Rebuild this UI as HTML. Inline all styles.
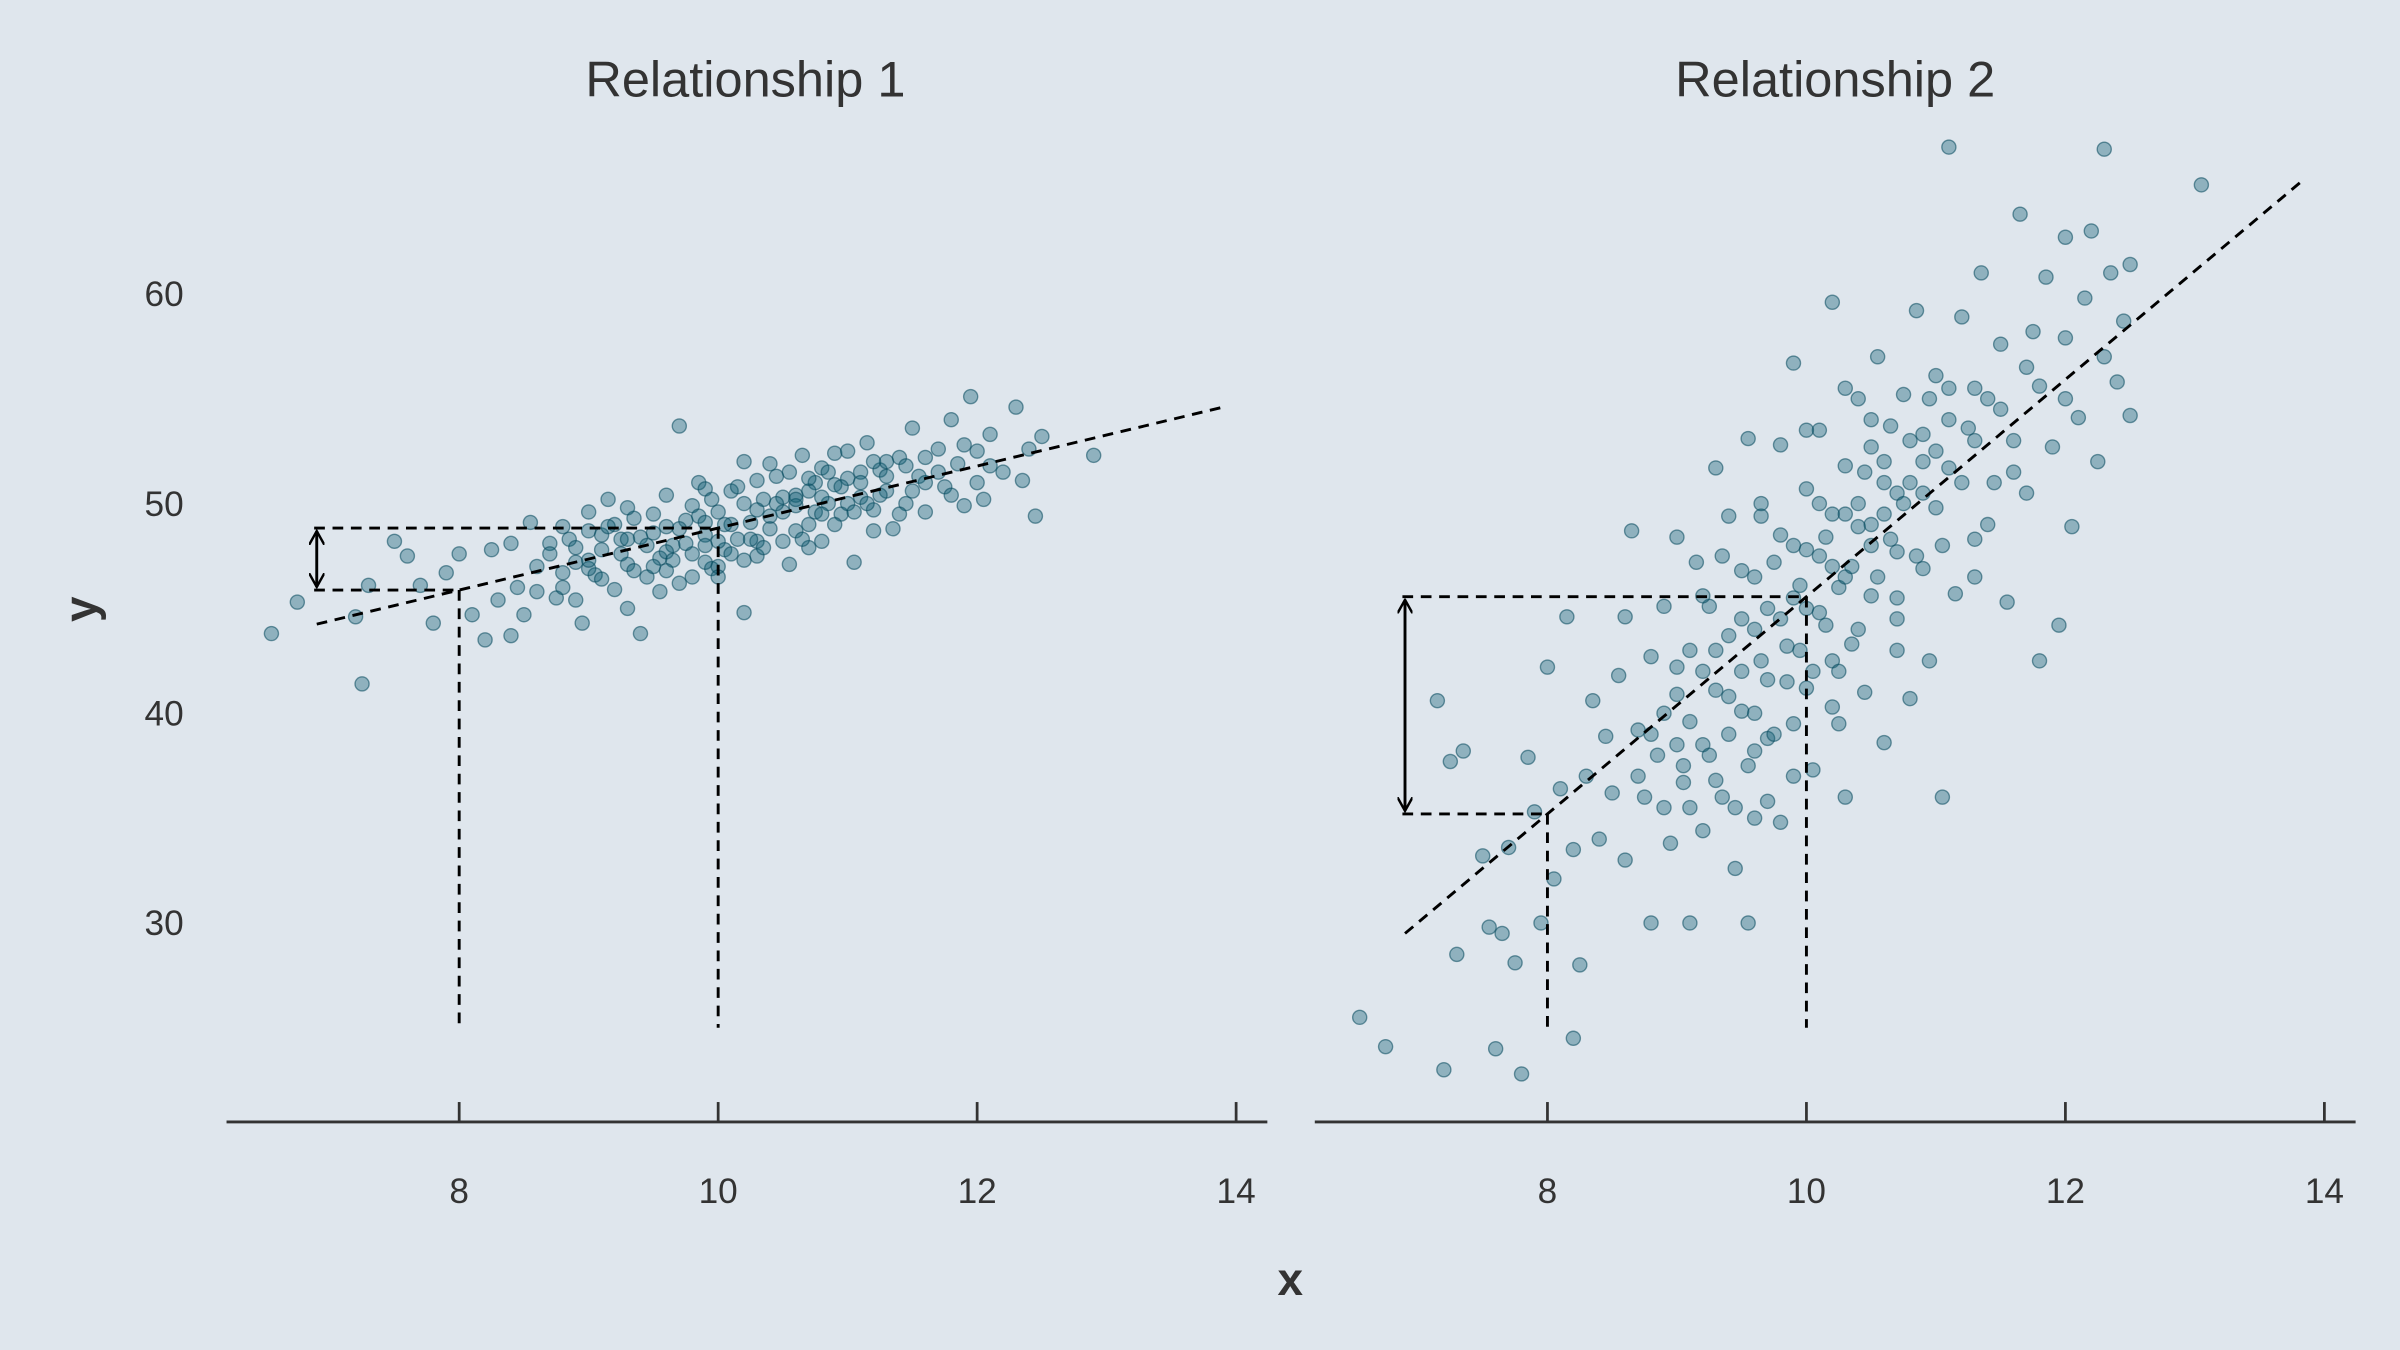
<!DOCTYPE html>
<html><head><meta charset="utf-8"><style>
html,body{margin:0;padding:0;background:#dfe6ed;}
svg{display:block;}
text{font-family:"Liberation Sans",sans-serif;}
</style></head><body>
<svg id="chart" width="2400" height="1350" viewBox="0 0 1568 882" xmlns="http://www.w3.org/2000/svg">
<rect width="1568" height="882" fill="#dfe6ed"/>
<defs>
<marker id="ah" viewBox="0 0 10 10" refX="9" refY="5" markerWidth="10" markerHeight="10" orient="auto-start-reverse" markerUnits="userSpaceOnUse"><path d="M0,0 L9,5 L0,10" fill="none" stroke="#000" stroke-width="1.6"/></marker>
</defs>
<text x="487" y="63" font-size="33" text-anchor="middle" fill="#333">Relationship 1</text>
<text x="1199" y="63" font-size="33" text-anchor="middle" fill="#333">Relationship 2</text>
<text x="843" y="846" font-size="30" font-weight="bold" text-anchor="middle" fill="#333">x</text>
<text transform="translate(63,398) rotate(-90)" font-size="30" font-weight="bold" text-anchor="middle" fill="#333">y</text>
<g id="layer"></g>
</svg>
<script>
const xTicks=[8,10,12,14];
const yTicks=[30,40,50,60];
const xs1=[6.55,6.75,7.2,7.25,7.3,7.5,7.6,7.7,7.8,7.9,8.0,8.1,8.2,8.25,8.3,8.4,8.45,8.5,8.55,8.6,8.7,8.75,8.8,8.85,8.9,8.95,9.0,9.05,9.1,9.15,9.2,9.25,9.3,9.35,9.4,9.45,9.5,9.55,9.6,9.65,9.7,9.7,9.75,9.8,9.85,9.9,9.95,10.0,10.05,10.1,10.15,10.2,10.2,10.25,10.3,10.35,10.4,10.45,10.5,10.55,10.6,10.65,10.7,10.75,10.8,10.85,10.9,10.95,11.0,11.05,11.1,11.15,11.2,11.25,11.3,11.35,11.4,11.45,11.5,11.55,11.6,11.7,11.75,11.8,11.85,11.9,11.95,12.0,12.05,12.1,12.2,12.3,12.4,12.45,12.5,12.9,12.35,9.2,9.4,9.6,9.8,10.0,10.2,10.4,10.6,10.8,11.0,9.3,9.5,9.7,9.9,10.1,10.3,10.5,10.7,10.9,11.1,11.3,8.8,8.9,9.0,9.1,9.9,10.0,10.3,10.7,11.2,11.6,12.0,8.6,8.4,
8.7,8.8,8.9,9.0,9.1,9.15,9.25,9.3,9.35,9.45,9.5,9.55,9.6,9.65,9.75,9.8,9.85,9.9,9.95,10.0,10.05,10.1,10.15,10.25,10.3,10.35,10.45,10.5,10.55,10.6,10.65,10.7,10.75,10.8,10.85,10.9,10.95,11.0,11.05,11.1,11.15,11.25,11.3,11.4,11.45,11.5,11.6,11.7,11.8,11.9,12.1,9.0,9.3,9.6,9.9,10.2,10.4,10.6,10.8,11.2];
const ys1=[43.8,45.3,44.6,41.4,46.1,48.2,47.5,46.1,44.3,46.7,47.6,44.7,43.5,47.8,45.4,43.7,46.0,44.7,49.1,47.0,48.1,45.5,46.7,48.3,47.2,44.3,48.7,46.6,47.8,50.2,45.9,48.3,47.1,49.3,43.8,46.5,48.6,47.4,50.4,48.0,53.7,46.2,49.2,47.6,51.0,48.5,46.9,49.6,47.8,50.6,48.3,44.8,52.0,49.1,47.5,50.2,48.8,51.3,49.6,47.1,50.4,52.3,49.0,51.0,48.2,50.0,52.4,49.5,51.2,47.2,50.3,52.9,49.7,51.6,50.6,48.8,52.2,50.0,53.6,51.3,49.6,52.6,50.8,54.0,51.9,49.9,55.1,52.5,50.2,53.3,51.5,54.6,52.6,49.4,53.2,52.3,51.1,49.0,48.4,47.7,49.9,48.2,50.0,49.4,48.7,51.7,50.0,45.0,47.0,48.8,47.2,49.0,51.1,50.3,50.6,50.9,51.5,52.0,48.9,45.4,46.9,48.5,50.7,47.0,48.2,47.9,48.7,51.0,51.0,45.8,48.1,
47.6,46.0,47.9,47.3,46.4,48.9,47.6,49.8,46.8,48.0,49.5,45.8,48.9,47.3,48.1,46.5,49.4,48.0,50.2,46.5,49.0,47.6,50.8,48.3,49.7,47.9,50.0,48.2,51.5,49.9,48.3,51.2,49.6,50.3,51.5,49.0,50.8,52.5,49.6,51.0,50.0,50.4,51.3,49.5,51.8,50.6,52.2,51.5,50.4,52.8,51.8,49.6,48.3,46.8,49.1,47.3,51.9,50.2,49.5,52.0];
const xs2=[6.55,6.75,7.15,7.2,7.25,7.3,7.35,7.5,7.55,7.6,7.65,7.7,7.75,7.8,7.85,7.9,7.95,8.0,8.05,8.1,8.15,8.2,8.2,8.25,8.3,8.35,8.4,8.45,8.5,8.55,8.6,8.6,8.65,8.7,8.75,8.8,8.8,8.85,8.9,8.95,9.0,9.0,9.05,9.1,9.1,9.15,9.2,9.2,9.25,9.3,9.3,9.35,9.4,9.4,9.45,9.5,9.5,9.55,9.55,9.6,9.6,9.65,9.7,9.7,9.75,9.8,9.8,9.85,9.9,9.9,9.95,10.0,10.0,10.05,10.1,10.1,10.15,10.2,10.2,10.25,10.3,10.3,10.35,10.4,10.4,10.45,10.5,10.5,10.55,10.6,10.6,10.65,10.7,10.7,10.75,10.8,10.8,10.85,10.9,10.9,10.95,11.0,11.0,11.05,11.1,11.1,11.15,11.2,11.25,11.3,11.35,11.4,11.45,11.5,11.55,11.6,11.65,11.7,11.75,11.8,11.8,11.85,11.9,11.95,12.0,12.0,12.05,12.1,12.15,12.2,12.25,12.3,12.3,12.35,12.4,12.45,12.5,12.5,13.05,10.0,10.2,9.6,9.4,9.8,10.4,10.6,9.2,9.0,8.9,9.3,9.7,10.1,10.3,10.5,10.7,10.9,11.1,11.3,9.5,9.9,10.2,9.1,8.7,
9.0,9.1,9.2,9.3,9.4,9.5,9.55,9.6,9.65,9.7,9.75,9.8,9.85,9.9,9.95,10.0,10.05,10.1,10.15,10.2,10.25,10.3,10.35,10.4,10.45,10.5,10.55,10.6,10.65,10.7,10.75,10.8,10.85,10.9,10.95,11.0,11.05,11.1,11.2,11.3,11.4,11.5,11.6,9.25,9.45,9.05,8.9,8.8,9.35,9.65,10.0,10.3,10.5,10.7,10.25,9.9,9.6,11.3,11.7,12.0];
const ys2=[25.5,24.1,40.6,23.0,37.7,28.5,38.2,33.2,29.8,24.0,29.5,33.6,28.1,22.8,37.9,35.3,30.0,42.2,32.1,36.4,44.6,24.5,33.5,28.0,37.0,40.6,34.0,38.9,36.2,41.8,44.6,33.0,48.7,39.2,36.0,30.0,42.7,38.0,45.1,33.8,40.9,48.4,36.7,43.0,30.0,47.2,38.5,34.4,45.1,41.1,51.7,36.0,43.7,49.4,32.6,40.1,46.8,30.0,53.1,38.2,44.0,49.4,35.8,41.6,47.2,34.8,52.8,43.2,39.5,56.7,46.1,41.2,50.7,37.3,44.8,53.5,48.4,40.3,59.6,46.0,51.8,36.0,43.3,55.0,48.9,41.0,52.7,45.6,57.0,49.5,38.6,53.7,44.5,47.7,55.2,51.0,40.7,59.2,46.9,53.3,42.5,49.8,56.1,36.0,67.0,51.7,45.7,58.9,53.6,48.3,61.0,55.0,51.0,57.6,45.3,53.0,63.8,50.5,58.2,42.5,55.6,60.8,52.7,44.2,57.9,62.7,48.9,54.1,59.8,63.0,52.0,66.9,57.0,61.0,55.8,58.7,54.2,61.4,65.2,45.0,42.5,40.0,39.0,44.5,50.0,51.0,42.0,38.5,40.0,36.8,38.8,47.5,46.5,48.0,50.5,52.0,54.0,55.5,42.0,48.0,49.5,35.5,37.0,
42.2,39.6,45.6,43.0,40.8,44.5,37.5,46.5,42.5,45.0,39.0,48.5,41.5,45.5,43.0,47.8,42.0,50.0,44.2,47.0,42.0,49.5,47.0,44.0,51.5,49.0,46.5,52.0,48.3,45.5,50.0,53.0,47.5,50.5,55.0,52.5,48.0,55.5,51.0,53.0,49.0,54.5,51.5,38.0,35.5,37.5,35.5,39.0,47.5,50.0,53.5,55.5,54.0,43.0,39.5,37.0,35.0,46.5,56.5,55.0];
// fitted lines: [x0,y0,x1,y1]
const fit1=[6.9,44.25,13.9,54.6];
const fit2=[6.9,29.5,13.85,65.5];
// reference x values for projections
const refX=[8,10];

const NS="http://www.w3.org/2000/svg";
const layer=document.getElementById('layer');
const Y=v=>329-(v-50)*13.7;
function mk(tag,attrs,parent){const e=document.createElementNS(NS,tag);for(const k in attrs)e.setAttribute(k,attrs[k]);(parent||layer).appendChild(e);return e;}
function lineY(f,x){return f[1]+(f[3]-f[1])*(x-f[0])/(f[2]-f[0]);}

yTicks.forEach(t=>{
  const e=mk('text',{x:120,y:Y(t)+8,'font-size':23,'text-anchor':'end',fill:'#333'});
  e.textContent=t;
  
  
});

function panel(x8,xs,ys,fit,id){
  const X=v=>x8+(v-8)*84.6;
  const g=mk('g',{});
  
  
  const ax=mk('line',{x1:x8-152,x2:x8+528,y1:733,y2:733,stroke:'#333','stroke-width':1.8},g);
  
  
  xTicks.forEach(t=>{
    const tk=mk('line',{x1:X(t),x2:X(t),y1:720,y2:733,stroke:'#333','stroke-width':1.8},g);
    
    
    const e=mk('text',{x:X(t),y:786,'font-size':23,'text-anchor':'middle',fill:'#333'},g);
    e.textContent=t;
    
    
  });
  const pts=mk('g',{},g);
  
  
  for(let i=0;i<xs.length;i++){
    const c=mk('circle',{cx:X(xs[i]),cy:Y(ys[i]),r:4.6,fill:'rgba(14,92,112,0.38)',stroke:'rgba(6,72,92,0.55)','stroke-width':0.9},pts);
    
    
  }
  const dash={stroke:'#000','stroke-width':1.9,'stroke-dasharray':'7,5',fill:'none'};
  const fl=mk('line',Object.assign({x1:X(fit[0]),y1:Y(fit[1]),x2:X(fit[2]),y2:Y(fit[3])},dash),g);
  
  
  const ya=lineY(fit,refX[0]), yb=lineY(fit,refX[1]);
  [[refX[0],ya],[refX[1],yb]].forEach(([rx,ry])=>{
    const v=mk('line',Object.assign({x1:X(rx),y1:Y(ry),x2:X(rx),y2:Y(25)},dash),g);
    
    
    const h=mk('line',Object.assign({x1:X(6.88),y1:Y(ry),x2:X(rx),y2:Y(ry)},dash),g);
    
    
  });
  const ar=mk('line',{x1:X(6.9),y1:Y(ya)-2,x2:X(6.9),y2:Y(yb)+2,stroke:'#000','stroke-width':1.9,'marker-start':'url(#ah)','marker-end':'url(#ah)'},g);
  
  
}
panel(300,xs1,ys1,fit1,1);
panel(1011,xs2,ys2,fit2,2);
</script>
</body></html>
